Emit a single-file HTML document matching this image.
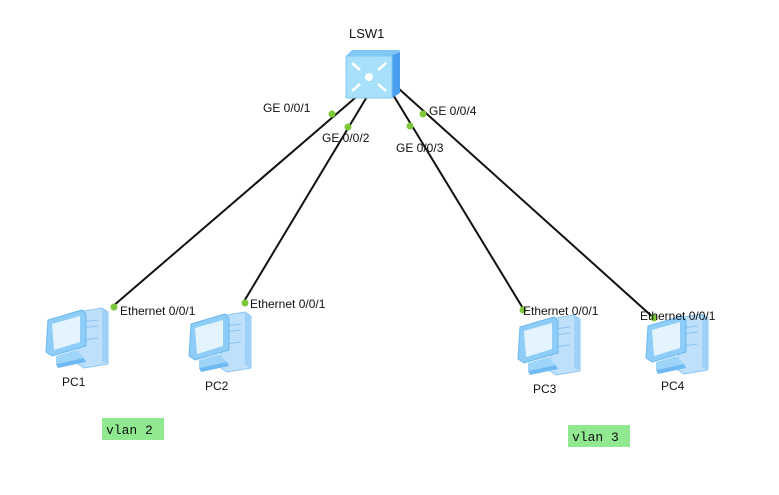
<!DOCTYPE html>
<html><head><meta charset="utf-8"><style>
body{margin:0;background:#fff;width:779px;height:490px;overflow:hidden}
svg text{font-family:"Liberation Sans",Arial,sans-serif;font-size:12px;fill:#111}
.m{font-family:"Liberation Mono",monospace;font-size:13px}
</style></head><body>
<svg width="779" height="490" viewBox="0 0 779 490" xmlns="http://www.w3.org/2000/svg">
<defs>
<g id="pc">
 <!-- tower -->
 <polygon points="36,6 60,2 66,6 66,58 42,62 36,58" fill="#bfe0fb" stroke="#8cc4f2"/>
 <polygon points="60,2 66,6 66,58 60,55" fill="#9fd0f8"/>
 <line x1="40" y1="16" x2="56" y2="14" stroke="#8cc4f2"/>
 <line x1="40" y1="22" x2="56" y2="20" stroke="#8cc4f2"/>
 <line x1="40" y1="34" x2="56" y2="32" stroke="#8cc4f2"/>
 <!-- monitor -->
 <polygon points="6,14 40,4 44,8 44,40 10,50 4,46" fill="#8ecdf7" stroke="#6db8ef"/>
 <polygon points="10,18 38,10 38,36 12,44" fill="#e4f4ff"/>
 <polygon points="14,50 34,44 42,52 14,58" fill="#9fd4f9"/>
 <polygon points="14,58 42,52 44,56 16,62" fill="#6fbaf2"/>
</g>
</defs>
<g stroke="#111" stroke-width="2">
 <line x1="362" y1="92" x2="112" y2="307"/>
 <line x1="368" y1="95" x2="243" y2="303"/>
 <line x1="392" y1="93" x2="524" y2="310"/>
 <line x1="398" y1="88" x2="656" y2="320"/>
</g>
<!-- switch -->
<polygon points="346,56 352,50 400,50 398,58" fill="#7fc7f5"/>
<polygon points="390,56 400,52 400,93 392,98" fill="#4a9ef0"/>
<rect x="346" y="56" width="46" height="42" fill="#a8e0fb" stroke="#7fc7f5"/>
<g stroke="#fff" stroke-width="2.5" fill="none">
 <path d="M352 63 l8 7 M352 91 l8 -7 M386 63 l-8 7 M386 91 l-8 -7"/>
</g>
<circle cx="369" cy="77" r="4" fill="#fff"/>
<text x="349" y="38" style="font-size:13px">LSW1</text>
<!-- pcs -->
<use href="#pc" x="42" y="306"/>
<use href="#pc" x="185" y="310"/>
<use href="#pc" x="514" y="313"/>
<use href="#pc" x="642" y="312"/>
<text x="62" y="386">PC1</text>
<text x="205" y="390">PC2</text>
<text x="533" y="393">PC3</text>
<text x="661" y="390">PC4</text>
<!-- ports -->
<g fill="#7ec83a">
 <circle cx="332" cy="114" r="3.5"/><circle cx="348" cy="127" r="3.5"/>
 <circle cx="410" cy="126" r="3.5"/><circle cx="423" cy="114" r="3.5"/>
 <circle cx="114" cy="307" r="3.5"/><circle cx="245" cy="303" r="3.5"/>
 <circle cx="523" cy="310" r="3.5"/><circle cx="654" cy="318" r="3.5"/>
</g>
<text x="263" y="112">GE 0/0/1</text>
<text x="322" y="142">GE 0/0/2</text>
<text x="396" y="152">GE 0/0/3</text>
<text x="429" y="115">GE 0/0/4</text>
<text x="120" y="315">Ethernet 0/0/1</text>
<text x="250" y="308">Ethernet 0/0/1</text>
<text x="523" y="315">Ethernet 0/0/1</text>
<text x="640" y="320">Ethernet 0/0/1</text>
<rect x="102" y="418" width="62" height="22" fill="#90e890"/>
<text class="m" x="106" y="434">vlan 2</text>
<rect x="568" y="425" width="62" height="22" fill="#90e890"/>
<text class="m" x="572" y="441">vlan 3</text>
</svg>
</body></html>
